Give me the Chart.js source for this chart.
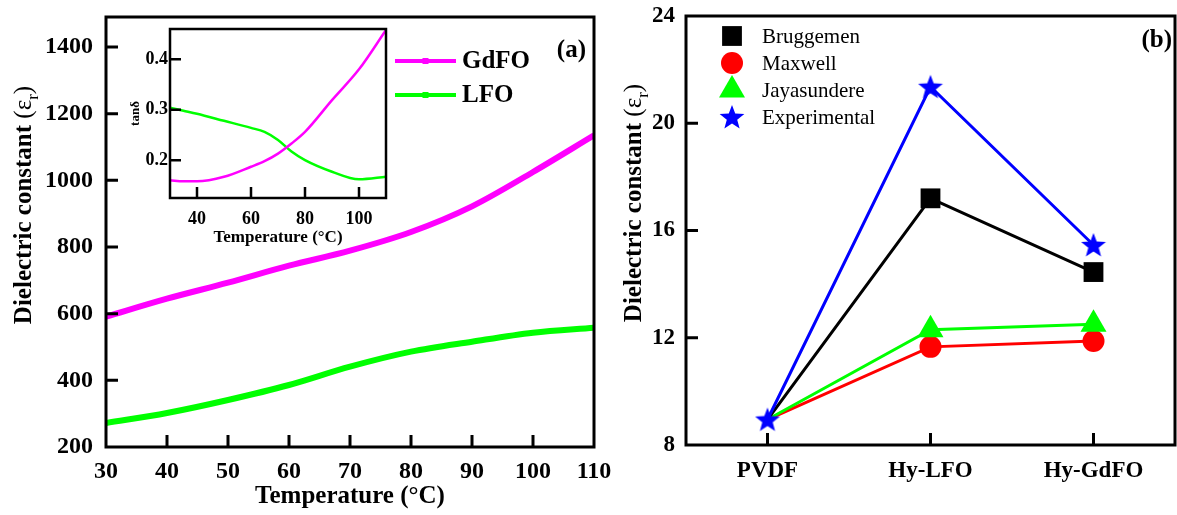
<!DOCTYPE html>
<html>
<head>
<meta charset="utf-8">
<title>Dielectric constant</title>
<script src="https://cdn.jsdelivr.net/npm/chart.js@4.4.1/dist/chart.umd.min.js"></script>
<style>
  body { margin: 0; background: #fff; }
  #wrap { position: relative; width: 1177px; height: 515px; background: #fff; overflow: hidden; }
  #wrap canvas { position: absolute; }
</style>
</head>
<body>
<div id="wrap">
  <canvas id="mainA" width="620" height="515" style="left:0;top:0"></canvas>
  <canvas id="insetA" width="290" height="250" style="left:110px;top:10px"></canvas>
  <canvas id="panelB" width="577" height="515" style="left:600px;top:0"></canvas>
</div>
<script>
// (a) dielectric constant vs temperature
const tempMain = [30, 40, 50, 60, 70, 80, 90, 100, 110];
const gdfoEps = [591, 645, 693, 744, 789, 845, 922, 1025, 1135];
const lfoEps = [272, 302, 341, 386, 441, 486, 516, 543, 558];
const tempTicksA = [30, 40, 50, 60, 70, 80, 90, 100, 110];
const epsTicksA = [200, 400, 600, 800, 1000, 1200, 1400];

// (a) inset: loss tangent
const tempInset = [30, 35, 40, 50, 60, 65, 70, 75, 80, 90, 100, 110];
const gdfoTan = [0.160, 0.158, 0.158, 0.167, 0.187, 0.198, 0.213, 0.233, 0.256, 0.319, 0.380, 0.458];
const lfoTan = [0.304, 0.298, 0.292, 0.278, 0.264, 0.256, 0.240, 0.217, 0.200, 0.177, 0.162, 0.167];
const tempTicksInset = [40, 60, 80, 100];
const tanTicks = [0.2, 0.3, 0.4];

// (b) model comparison
const samples = ['PVDF', 'Hy-LFO', 'Hy-GdFO'];
const bruggemen = [8.95, 17.2, 14.45];
const maxwell = [8.95, 11.66, 11.88];
const jayasundere = [8.95, 12.3, 12.5];
const experimental = [8.95, 21.36, 15.46];
const epsTicksB = [8, 12, 16, 20, 24];

const FONT = "'Liberation Serif', 'Times New Roman', serif";
const MAGENTA = '#ff00ff';
const GREEN = '#00ff00';

Chart.defaults.font.family = FONT;
Chart.defaults.color = '#000';

function pairs(xs, ys) {
  return xs.map((x, i) => ({ x: x, y: ys[i] }));
}

function fixedTicks(values) {
  return function(scale) {
    scale.ticks = values.map(v => ({ value: v }));
  };
}

// force the axis box size and drop the label overhang padding
function boxSize(prop, px) {
  return function(scale) {
    scale[prop] = px;
    scale.paddingLeft = scale.paddingRight = 0;
    scale.paddingTop = scale.paddingBottom = 0;
  };
}

const noGrid = { display: false, drawTicks: false };

// filled five point star used as a point style
function starImage(size, color) {
  const c = document.createElement('canvas');
  c.width = c.height = size;
  const g = c.getContext('2d');
  const R = size / 2, r = R * 0.42;
  g.beginPath();
  for (let k = 0; k < 10; k++) {
    const rad = k % 2 ? r : R;
    const ang = -Math.PI / 2 + k * Math.PI / 5;
    g.lineTo(R + rad * Math.cos(ang), R + 0.08 * R + rad * Math.sin(ang));
  }
  g.closePath();
  g.fillStyle = color;
  g.fill();
  return c;
}

// "Dielectric constant (εr)" with a subscript r, rotated
function drawEpsTitle(ctx, cx, cy, size) {
  const parts = [
    { t: 'Dielectric constant ', f: `bold ${size}px ${FONT}`, dy: 0 },
    { t: '(\u03b5', f: `${size}px ${FONT}`, dy: 0 },
    { t: 'r', f: `${Math.round(size * 0.68)}px ${FONT}`, dy: size * 0.25 },
    { t: ')', f: `${size}px ${FONT}`, dy: 0 }
  ];
  ctx.save();
  ctx.translate(cx, cy);
  ctx.rotate(-Math.PI / 2);
  let total = 0;
  parts.forEach(p => { ctx.font = p.f; p.w = ctx.measureText(p.t).width; total += p.w; });
  let x = -total / 2;
  ctx.fillStyle = '#000';
  ctx.textBaseline = 'alphabetic';
  parts.forEach(p => {
    ctx.font = p.f;
    ctx.fillText(p.t, x, size * 0.33 + p.dy);
    x += p.w;
  });
  ctx.restore();
}

// frame, inward ticks, titles, tag and legend for each panel
const panelDeco = {
  id: 'panelDeco',
  afterDatasetsDraw(chart, args, opts) {
    const { ctx, chartArea: a, scales } = chart;
    ctx.save();
    ctx.strokeStyle = '#000';
    ctx.lineWidth = opts.tickWidth;
    ctx.beginPath();
    scales.x.ticks.forEach((t, i) => {
      const px = scales.x.getPixelForTick(i);
      if (px <= a.left + 2 || px >= a.right - 2) return;
      ctx.moveTo(px, a.bottom);
      ctx.lineTo(px, a.bottom - opts.tickLen);
    });
    scales.y.ticks.forEach((t, i) => {
      const py = scales.y.getPixelForTick(i);
      if (py <= a.top + 2 || py >= a.bottom - 2) return;
      ctx.moveTo(a.left, py);
      ctx.lineTo(a.left + opts.tickLen, py);
    });
    ctx.stroke();
    ctx.lineWidth = opts.frameWidth;
    ctx.strokeRect(a.left, a.top, a.right - a.left, a.bottom - a.top);

    if (opts.yTitle) drawEpsTitle(ctx, opts.yTitle.x, opts.yTitle.y, opts.yTitle.size);

    if (opts.tag) {
      ctx.font = `bold ${opts.tag.size}px ${FONT}`;
      ctx.fillStyle = '#000';
      ctx.textAlign = 'right';
      ctx.textBaseline = 'middle';
      ctx.fillText(opts.tag.text, opts.tag.x, opts.tag.y);
    }

    const lg = opts.legend;
    if (lg) {
      chart.data.datasets.forEach((ds, i) => {
        const y = lg.rows[i];
        if (lg.kind === 'line') {
          ctx.strokeStyle = ds.borderColor;
          ctx.lineWidth = 4;
          ctx.beginPath();
          ctx.moveTo(lg.x0, y);
          ctx.lineTo(lg.x1, y);
          ctx.stroke();
          ctx.fillStyle = ds.borderColor;
          const xm = (lg.x0 + lg.x1) / 2;
          ctx.fillRect(xm - 3, y - 3, 6, 6);
        } else {
          ctx.fillStyle = ds.pointBackgroundColor;
          Chart.helpers.drawPoint(ctx, {
            pointStyle: ds.pointStyle,
            radius: Math.max.apply(null, [].concat(ds.pointRadius)),
            rotation: 0, borderWidth: 0
          }, lg.marker, y);
        }
        ctx.fillStyle = '#000';
        ctx.font = lg.font;
        ctx.textAlign = 'left';
        ctx.textBaseline = 'middle';
        ctx.fillText(ds.label, lg.text, y + 1);
      });
    }
    ctx.restore();
  }
};

const common = {
  responsive: false,
  animation: false,
  events: [],
};

// ---- panel (a), main plot
new Chart(document.getElementById('mainA'), {
  type: 'line',
  data: {
    datasets: [
      { label: 'GdFO', data: pairs(tempMain, gdfoEps), borderColor: MAGENTA, backgroundColor: MAGENTA },
      { label: 'LFO', data: pairs(tempMain, lfoEps), borderColor: GREEN, backgroundColor: GREEN }
    ]
  },
  options: Object.assign({}, common, {
    layout: { autoPadding: false, padding: { top: 17, right: 26, left: 0, bottom: 0 } },
    elements: {
      line: { borderWidth: 6, cubicInterpolationMode: 'monotone' },
      point: { radius: 0 }
    },
    scales: {
      x: {
        type: 'linear', min: 30, max: 110,
        afterFit: boxSize('height', 68),
        afterBuildTicks: fixedTicks(tempTicksA),
        grid: noGrid, border: { display: false },
        ticks: { font: { size: 24, weight: 'bold' }, padding: 10, autoSkip: false, maxRotation: 0 },
        title: {
          display: true, text: 'Temperature (\u00b0C)',
          font: { size: 25, weight: 'bold' }, padding: { top: 0, bottom: 3 }
        }
      },
      y: {
        type: 'linear', min: 200, max: 1490,
        afterFit: boxSize('width', 106),
        afterBuildTicks: fixedTicks(epsTicksA),
        grid: noGrid, border: { display: false },
        ticks: { font: { size: 24, weight: 'bold' }, padding: 13, callback: v => String(v) }
      }
    },
    plugins: {
      legend: { display: false },
      tooltip: { enabled: false },
      panelDeco: {
        tickLen: 12, tickWidth: 3, frameWidth: 3,
        yTitle: { x: 23, y: 205, size: 25 },
        tag: { text: '(a)', x: 586, y: 51, size: 25 },
        legend: { kind: 'line', x0: 395, x1: 456, text: 462, rows: [61, 95], font: `bold 25px ${FONT}` }
      }
    }
  }),
  plugins: [panelDeco]
});

// ---- panel (a), inset
new Chart(document.getElementById('insetA'), {
  type: 'line',
  data: {
    datasets: [
      { label: 'GdFO', data: pairs(tempInset, gdfoTan), borderColor: MAGENTA },
      { label: 'LFO', data: pairs(tempInset, lfoTan), borderColor: GREEN }
    ]
  },
  options: Object.assign({}, common, {
    layout: { autoPadding: false, padding: { top: 19, right: 14, left: 0, bottom: 0 } },
    elements: {
      line: { borderWidth: 2.5, cubicInterpolationMode: 'monotone' },
      point: { radius: 0 }
    },
    scales: {
      x: {
        type: 'linear', min: 30, max: 110,
        afterFit: boxSize('height', 62),
        afterBuildTicks: fixedTicks(tempTicksInset),
        grid: noGrid, border: { display: false },
        ticks: { font: { size: 18, weight: 'bold' }, padding: 11, autoSkip: false, maxRotation: 0 },
        title: {
          display: true, text: 'Temperature (\u00b0C)',
          font: { size: 17, weight: 'bold' }, padding: { top: 0, bottom: 12 }
        }
      },
      y: {
        type: 'linear', min: 0.125, max: 0.46,
        afterFit: boxSize('width', 60),
        afterBuildTicks: fixedTicks(tanTicks),
        grid: noGrid, border: { display: false },
        ticks: { font: { size: 18, weight: 'bold' }, padding: 2, callback: v => v.toFixed(1) },
        title: {
          display: true, text: 'tan\u03b4',
          font: { size: 13, weight: 'bold' }, padding: { top: 18, bottom: 0 }
        }
      }
    },
    plugins: {
      legend: { display: false },
      tooltip: { enabled: false },
      panelDeco: { tickLen: 11, tickWidth: 2.5, frameWidth: 2.5 }
    }
  }),
  plugins: [panelDeco]
});

// ---- panel (b)
const star = starImage(26, '#0000ff');

new Chart(document.getElementById('panelB'), {
  type: 'line',
  data: {
    labels: samples,
    datasets: [
      { label: 'Bruggemen', data: bruggemen, borderColor: '#000', pointBackgroundColor: '#000',
        pointStyle: 'rect', pointRadius: [0, 14, 14], order: 1 },
      { label: 'Maxwell', data: maxwell, borderColor: '#ff0000', pointBackgroundColor: '#ff0000',
        pointStyle: 'circle', pointRadius: [0, 11, 11], order: 3 },
      { label: 'Jayasundere', data: jayasundere, borderColor: '#00ff00', pointBackgroundColor: '#00ff00',
        pointStyle: 'triangle', pointRadius: [0, 15, 15], order: 2 },
      { label: 'Experimental', data: experimental, borderColor: '#0000ff', pointBackgroundColor: '#0000ff',
        pointStyle: star, pointRadius: 12, order: 0 }
    ]
  },
  options: Object.assign({}, common, {
    layout: { autoPadding: false, padding: { top: 16, right: 2, left: 0, bottom: 0 } },
    elements: {
      line: { borderWidth: 3, tension: 0 },
      point: { borderWidth: 0 }
    },
    scales: {
      x: {
        type: 'category', offset: true,
        afterFit: boxSize('height', 70),
        grid: noGrid, border: { display: false },
        ticks: { font: { size: 23, weight: 'bold' }, padding: 12, autoSkip: false, maxRotation: 0 }
      },
      y: {
        type: 'linear', min: 8, max: 24,
        afterFit: boxSize('width', 86),
        afterBuildTicks: fixedTicks(epsTicksB),
        grid: noGrid, border: { display: false },
        ticks: { font: { size: 23, weight: 'bold' }, padding: 11 }
      }
    },
    plugins: {
      legend: { display: false },
      tooltip: { enabled: false },
      panelDeco: {
        tickLen: 12, tickWidth: 3, frameWidth: 3,
        yTitle: { x: 33, y: 203, size: 25 },
        tag: { text: '(b)', x: 572, y: 41, size: 25 },
        legend: { kind: 'point', marker: 132, text: 162, rows: [36, 63, 90, 117], font: `21px ${FONT}` }
      }
    }
  }),
  plugins: [panelDeco]
});
</script>
</body>
</html>
